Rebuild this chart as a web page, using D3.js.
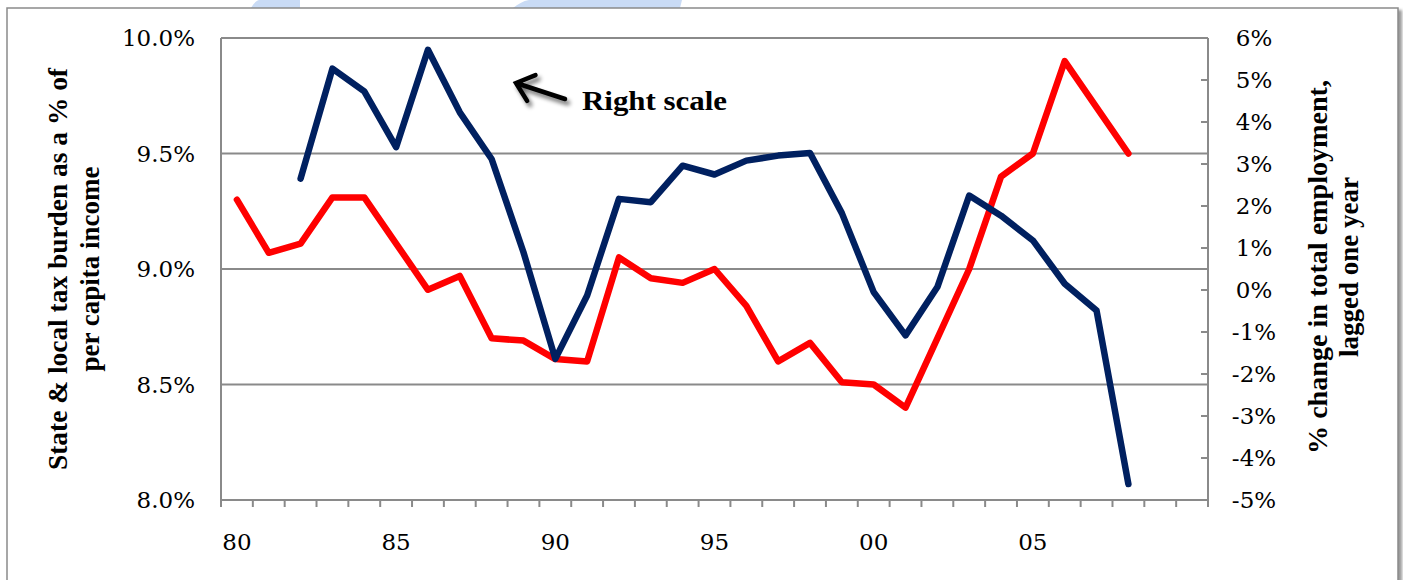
<!DOCTYPE html>
<html><head><meta charset="utf-8">
<script src="https://cdn.jsdelivr.net/npm/d3@7/dist/d3.min.js"></script>
<style>
html,body{margin:0;padding:0;background:#fff;}
svg{display:block;}
</style></head>
<body>
<script>
// ---- data ----
const years = [1980,1981,1982,1983,1984,1985,1986,1987,1988,1989,1990,1991,1992,1993,1994,1995,1996,1997,1998,1999,2000,2001,2002,2003,2004,2005,2006,2007,2008,2009,2010];
const xTickLabels = {1980:"80",1985:"85",1990:"90",1995:"95",2000:"00",2005:"05"};
// State & local tax burden as % of per capita income (left scale)
const taxBurden = [9.30,9.07,9.11,9.31,9.31,9.11,8.91,8.97,8.70,8.69,8.61,8.60,9.05,8.96,8.94,9.00,8.84,8.60,8.68,8.51,8.50,8.40,8.70,9.00,9.40,9.50,9.90,9.70,9.50,null,null];
// % change in total employment, lagged one year (right scale)
const employment = [null,null,2.65,5.27,4.73,3.40,5.72,4.23,3.12,0.90,-1.64,-0.13,2.17,2.09,2.96,2.75,3.08,3.20,3.26,1.83,-0.05,-1.08,0.07,2.25,1.77,1.18,0.15,-0.49,-4.62,null,null];
const leftTicks = [8.0,8.5,9.0,9.5,10.0];
const rightTicks = [-5,-4,-3,-2,-1,0,1,2,3,4,5,6];
const leftTitle = ["State & local tax burden as a % of","per capita income"];
const rightTitle = ["% change in total employment,","lagged one year"];
const annotation = "Right scale";

// ---- layout ----
const W = 1403, H = 580;
const L = 221, R = 1208, T = 38, B = 500;
const gray = "#8a8a8a";
const tickFont = "'DejaVu Serif', serif";
const titleFont = "'Liberation Serif', 'Times New Roman', serif";

const svg = d3.select("body").append("svg").attr("width", W).attr("height", H);
const defs = svg.append("defs");
const sh = defs.append("filter").attr("id","shadow").attr("x","-50%").attr("y","-50%").attr("width","200%").attr("height","200%");
sh.append("feGaussianBlur").attr("in","SourceAlpha").attr("stdDeviation",2.2);
sh.append("feOffset").attr("dx",3).attr("dy",4).attr("result","ob");
sh.append("feComponentTransfer").append("feFuncA").attr("type","linear").attr("slope",0.55);
const m = sh.append("feMerge"); m.append("feMergeNode"); m.append("feMergeNode").attr("in","SourceGraphic");
const bs = defs.append("filter").attr("id","bshadow").attr("x","-10%").attr("y","-10%").attr("width","120%").attr("height","120%");
bs.append("feGaussianBlur").attr("stdDeviation",1.5);

// watermark pieces above the frame
svg.append("path").attr("d","M251,8 C253,4 256,1 259,0 L300,0 L300,8 Z").attr("fill","#c9dbf5");
svg.append("path").attr("d","M513,8 C518,4 523,1 529,0 L682,0 L680,8 Z").attr("fill","#c9dbf5");

// outer frame with shadow
svg.append("rect").attr("x",11).attr("y",10).attr("width",1391).attr("height",620).attr("fill","#9a9a9a").attr("filter","url(#bshadow)");
svg.append("rect").attr("x",7).attr("y",8).attr("width",1391).attr("height",620).attr("fill","#fff").attr("stroke",gray).attr("stroke-width",1.5);

// scales
const x = d3.scaleBand().domain(years).range([L, R]).padding(0);
const cx = d => x(d) + x.bandwidth()/2;
const yL = d3.scaleLinear().domain([8, 10]).range([B, T]);
const yR = d3.scaleLinear().domain([-5, 6]).range([B, T]);

// gridlines (left scale)
svg.append("g").selectAll("line").data(leftTicks).join("line")
  .attr("x1", L).attr("x2", R).attr("y1", d => yL(d)).attr("y2", d => yL(d))
  .attr("stroke", gray).attr("stroke-width", 2);

// left axis line
svg.append("line").attr("x1",L).attr("x2",L).attr("y1",T).attr("y2",B+7).attr("stroke",gray).attr("stroke-width",2);
// right axis line + ticks
svg.append("line").attr("x1",R).attr("x2",R).attr("y1",T).attr("y2",B+7).attr("stroke",gray).attr("stroke-width",2);
svg.append("g").selectAll("line").data(rightTicks).join("line")
  .attr("x1", R-7).attr("x2", R).attr("y1", d => yR(d)).attr("y2", d => yR(d))
  .attr("stroke", gray).attr("stroke-width", 2);
// x axis ticks at category boundaries
const bounds = years.map(d => x(d)).concat([R]);
svg.append("g").selectAll("line").data(bounds).join("line")
  .attr("x1", d => d).attr("x2", d => d).attr("y1", B).attr("y2", B+7)
  .attr("stroke", gray).attr("stroke-width", 2);

// tick labels
svg.append("g").selectAll("text").data(leftTicks).join("text")
  .attr("x", 195).attr("y", d => yL(d)).attr("dy","0.36em").attr("text-anchor","end")
  .attr("font-family", tickFont).attr("font-size", 23).attr("fill","#000")
  .text(d => d.toFixed(1) + "%");
svg.append("g").selectAll("text").data(rightTicks).join("text")
  .attr("x", 1254).attr("y", d => yR(d)).attr("dy","0.36em").attr("text-anchor","middle")
  .attr("font-family", tickFont).attr("font-size", 23).attr("fill","#000")
  .text(d => d + "%");
svg.append("g").selectAll("text").data(years.filter(d => xTickLabels[d])).join("text")
  .attr("x", d => cx(d)).attr("y", 550).attr("text-anchor","middle")
  .attr("font-family", tickFont).attr("font-size", 23).attr("fill","#000")
  .text(d => xTickLabels[d]);

// axis titles
const lt = svg.append("g").attr("transform","translate(0,269) rotate(-90)");
lt.selectAll("text").data(leftTitle).join("text")
  .attr("x",0).attr("y",(d,i)=> i===0 ? 67 : 99).attr("text-anchor","middle")
  .attr("font-family", titleFont).attr("font-weight","bold").attr("font-size",27).attr("fill","#000")
  .attr("textLength",(d,i)=> i===0 ? 402 : null).attr("lengthAdjust","spacingAndGlyphs")
  .text(d => d);
const rt = svg.append("g").attr("transform","translate(0,267) rotate(-90)");
rt.selectAll("text").data(rightTitle).join("text")
  .attr("x",0).attr("y",(d,i)=> i===0 ? 1327 : 1358).attr("text-anchor","middle")
  .attr("font-family", titleFont).attr("font-weight","bold").attr("font-size",27).attr("fill","#000")
  .attr("textLength",(d,i)=> i===0 ? 374 : null).attr("lengthAdjust","spacingAndGlyphs")
  .text(d => d);

// series
const lineL = d3.line().defined(d => d[1] != null).x(d => cx(d[0])).y(d => yL(d[1]));
const lineR = d3.line().defined(d => d[1] != null).x(d => cx(d[0])).y(d => yR(d[1]));
svg.append("path").datum(years.map((d,i)=>[d,taxBurden[i]])).attr("d", lineL)
  .attr("fill","none").attr("stroke","#ff0000").attr("stroke-width",6.5)
  .attr("stroke-linejoin","round").attr("stroke-linecap","round");
svg.append("path").datum(years.map((d,i)=>[d,employment[i]])).attr("d", lineR)
  .attr("fill","none").attr("stroke","#002060").attr("stroke-width",6.5)
  .attr("stroke-linejoin","round").attr("stroke-linecap","round");

// annotation arrow + text
const tip = [516, 83], tail = [565, 99];
const ang = Math.atan2(tail[1]-tip[1], tail[0]-tip[0]);
const wl = 21, wa = 40 * Math.PI/180;
const w1 = [tip[0] + wl*Math.cos(ang - wa), tip[1] + wl*Math.sin(ang - wa)];
const w2 = [tip[0] + wl*Math.cos(ang + wa), tip[1] + wl*Math.sin(ang + wa)];
const ag = svg.append("g").attr("filter","url(#shadow)");
ag.append("path").attr("d", `M${tail[0]},${tail[1]} L${tip[0]},${tip[1]} M${w1[0]},${w1[1]} L${tip[0]},${tip[1]} L${w2[0]},${w2[1]}`)
  .attr("fill","none").attr("stroke","#000").attr("stroke-width",4.5).attr("stroke-linecap","round").attr("stroke-linejoin","miter");
svg.append("text").attr("x",582).attr("y",110)
  .attr("font-family", titleFont).attr("font-weight","bold").attr("font-size",27).attr("fill","#000")
  .attr("textLength",145).attr("lengthAdjust","spacingAndGlyphs")
  .text(annotation);
</script>
</body></html>
